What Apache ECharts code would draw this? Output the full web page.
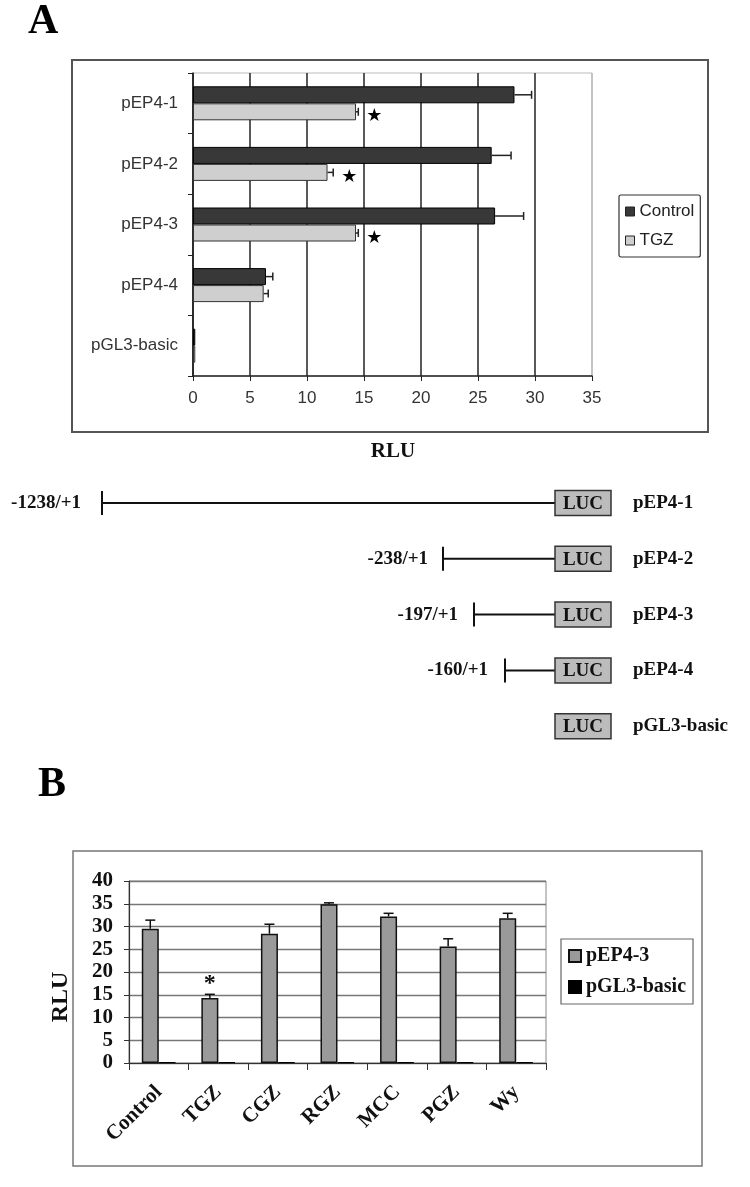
<!DOCTYPE html>
<html>
<head>
<meta charset="utf-8">
<script src="https://cdn.jsdelivr.net/npm/echarts@6/dist/echarts.min.js"></script>
<style>
html,body{margin:0;padding:0;background:#fff}
#main{width:750px;height:1187px}
</style>
</head>
<body>
<div id="main"></div>
<script>
// panel A: promoter constructs, control vs TGZ
const constructs = ['pEP4-1', 'pEP4-2', 'pEP4-3', 'pEP4-4', 'pGL3-basic'];
const controlA = [28.2, 26.2, 26.5, 6.4, 0.2];
const controlAErr = [1.5, 1.7, 2.5, 0.6, 0];
const tgzA = [14.3, 11.8, 14.3, 6.2, 0.2];
const tgzAErr = [0.2, 0.5, 0.2, 0.4, 0];
const sigA = [true, true, true, false, false];
const promoters = ['-1238/+1', '-238/+1', '-197/+1', '-160/+1', ''];
const ticksA = [0, 5, 10, 15, 20, 25, 30, 35];

// panel B: pEP4-3 under PPAR ligands
const treatments = ['Control', 'TGZ', 'CGZ', 'RGZ', 'MCC', 'PGZ', 'Wy'];
const pep43 = [29.5, 14.3, 28.4, 34.9, 32.2, 25.6, 31.8];
const pep43Err = [1.9, 0.8, 2.1, 0.3, 0.7, 1.7, 1.1];
const basicB = [0.2, 0.2, 0.2, 0.2, 0.2, 0.2, 0.2];
const sigB = [false, true, false, false, false, false, false];

const SANS = '"Liberation Sans", Arial, sans-serif';
const SERIF = '"Liberation Serif", "Times New Roman", serif';
const BAR = 17;

// horizontal error bar + star (panel A)
function errA(vals, errs, offset, stars) {
  return function (params, api) {
    const i = params.dataIndex;
    const p0 = api.coord([vals[i], i]);
    const p1 = api.coord([vals[i] + errs[i], i]);
    const y = p0[1] + offset;
    const kids = [];
    if (errs[i] > 0) {
      kids.push({type: 'line', shape: {x1: p0[0], y1: y, x2: p1[0], y2: y}, style: {stroke: '#222', lineWidth: 1.5}});
      kids.push({type: 'line', shape: {x1: p1[0], y1: y - 4, x2: p1[0], y2: y + 4}, style: {stroke: '#222', lineWidth: 1.5}});
    }
    if (stars && stars[i]) {
      kids.push({type: 'text', x: p1[0] + 16, y: y + 5,
        style: {text: '★', font: '18px "DejaVu Sans"', fill: '#000', align: 'center', verticalAlign: 'middle'}});
    }
    return {type: 'group', children: kids};
  };
}

// vertical error bar + asterisk (panel B)
function errB(params, api) {
  const i = params.dataIndex;
  const p0 = api.coord([i, pep43[i]]);
  const p1 = api.coord([i, pep43[i] + pep43Err[i]]);
  const x = p0[0] - BAR / 2;
  const kids = [
    {type: 'line', shape: {x1: x, y1: p0[1], x2: x, y2: p1[1]}, style: {stroke: '#111', lineWidth: 1.5}},
    {type: 'line', shape: {x1: x - 5, y1: p1[1], x2: x + 5, y2: p1[1]}, style: {stroke: '#111', lineWidth: 1.5}}
  ];
  if (sigB[i]) {
    kids.push({type: 'text', x: x, y: p1[1] - 10,
      style: {text: '*', font: 'bold 24px ' + SERIF, fill: '#111', align: 'center', verticalAlign: 'middle'}});
  }
  return {type: 'group', children: kids};
}

// construct schematic (between the two panels)
const graphics = [
  {type: 'rect', silent: true, shape: {x: 72, y: 60, width: 636, height: 372}, style: {fill: 'none', stroke: '#555', lineWidth: 2}},
  {type: 'rect', silent: true, shape: {x: 73, y: 851, width: 629, height: 315}, style: {fill: 'none', stroke: '#777', lineWidth: 1.5}},
  {type: 'text', x: 28, y: 43, style: {text: 'A', font: 'bold 42px ' + SERIF, fill: '#000', align: 'left', verticalAlign: 'bottom'}},
  {type: 'text', x: 38, y: 806, style: {text: 'B', font: 'bold 42px ' + SERIF, fill: '#000', align: 'left', verticalAlign: 'bottom'}},
  {type: 'text', x: 393, y: 452, style: {text: 'RLU', font: 'bold 21px ' + SERIF, fill: '#111', align: 'center', verticalAlign: 'middle'}},
  {type: 'text', x: 61, y: 997, rotation: Math.PI / 2, style: {text: 'RLU', font: 'bold 24px ' + SERIF, fill: '#111', align: 'center', verticalAlign: 'middle'}}
];
const tickX = [102, 443, 474, 505];
const labelEnd = [81, 428, 458, 488];
constructs.forEach(function (name, i) {
  const y = 503 + i * 55.8;
  if (promoters[i]) {
    graphics.push({type: 'line', silent: true, shape: {x1: tickX[i], y1: y, x2: 555, y2: y}, style: {stroke: '#111', lineWidth: 2}});
    graphics.push({type: 'line', silent: true, shape: {x1: tickX[i], y1: y - 12, x2: tickX[i], y2: y + 12}, style: {stroke: '#111', lineWidth: 2}});
    graphics.push({type: 'text', x: labelEnd[i], y: y, style: {text: promoters[i], font: 'bold 19px ' + SERIF, fill: '#111', align: 'right', verticalAlign: 'middle'}});
  }
  graphics.push({type: 'rect', silent: true, shape: {x: 555, y: y - 12.5, width: 56, height: 25}, style: {fill: '#bcbcbc', stroke: '#333', lineWidth: 1.5}});
  graphics.push({type: 'text', x: 583, y: y + 1, style: {text: 'LUC', font: 'bold 19px ' + SERIF, fill: '#111', align: 'center', verticalAlign: 'middle'}});
  graphics.push({type: 'text', x: 633, y: y, style: {text: name, font: 'bold 19px ' + SERIF, fill: '#111', align: 'left', verticalAlign: 'middle'}});
});

const chart = echarts.init(document.getElementById('main'));
chart.setOption({
  animation: false,
  backgroundColor: '#fff',
  graphic: graphics,
  grid: [
    {left: 193, top: 73, width: 399, height: 303, show: true, borderColor: '#bbb', borderWidth: 1},
    {left: 129, top: 881, width: 417, height: 182, show: true, borderColor: '#888', borderWidth: 1}
  ],
  legend: [
    {data: ['Control', 'TGZ'], left: 619, top: 195, orient: 'vertical', icon: 'rect',
      itemWidth: 9, itemHeight: 9, itemGap: 12, itemStyle: {borderColor: '#222', borderWidth: 1},
      padding: [8, 6, 8, 6],
      borderColor: '#333', borderWidth: 1.2, borderRadius: 2, backgroundColor: '#fff',
      textStyle: {fontFamily: SANS, fontSize: 17, color: '#222'}},
    {data: ['pEP4-3', 'pGL3-basic'], left: 561, top: 939, orient: 'vertical', icon: 'rect',
      itemWidth: 12, itemHeight: 12, itemGap: 11, padding: [7, 7, 7, 7],
      borderColor: '#666', borderWidth: 1.2, backgroundColor: '#fff',
      textStyle: {fontFamily: SERIF, fontSize: 20, fontWeight: 'bold', color: '#111'}}
  ],
  xAxis: [
    {gridIndex: 0, type: 'value', min: 0, max: 35, interval: 5,
      axisLine: {show: true, lineStyle: {color: '#222', width: 1.5}},
      axisTick: {show: true, length: 5, lineStyle: {color: '#222'}},
      axisLabel: {fontFamily: SANS, fontSize: 17, color: '#333', margin: 14},
      splitLine: {show: true, lineStyle: {color: ticksA.map(function (t) { return t === 35 ? '#bbb' : '#222'; }), width: 1.5}}},
    {gridIndex: 1, type: 'category', data: treatments,
      axisLine: {show: true, lineStyle: {color: '#333', width: 1.2}},
      axisTick: {show: true, length: 7, lineStyle: {color: '#333'}},
      axisLabel: {interval: 0, rotate: 45, fontFamily: SERIF, fontSize: 21, fontWeight: 'bold', color: '#111', margin: 26},
      splitLine: {show: false}}
  ],
  yAxis: [
    {gridIndex: 0, type: 'category', data: constructs, inverse: true,
      axisLine: {show: true, lineStyle: {color: '#222', width: 1.5}},
      axisTick: {show: true, length: 5, lineStyle: {color: '#222'}},
      axisLabel: {fontFamily: SANS, fontSize: 17, color: '#333', margin: 15},
      splitLine: {show: false}},
    {gridIndex: 1, type: 'value', min: 0, max: 40, interval: 5,
      axisLine: {show: true, lineStyle: {color: '#333', width: 1.2}},
      axisTick: {show: true, length: 5, lineStyle: {color: '#333'}},
      axisLabel: {fontFamily: SERIF, fontSize: 21, fontWeight: 'bold', color: '#111', margin: 16},
      splitLine: {show: true, lineStyle: {color: '#777', width: 1.3}}}
  ],
  series: [
    {name: 'Control', type: 'bar', xAxisIndex: 0, yAxisIndex: 0, data: controlA, barWidth: BAR, barGap: '0%',
      itemStyle: {color: '#383838', borderColor: '#000', borderWidth: 1}},
    {name: 'TGZ', type: 'bar', xAxisIndex: 0, yAxisIndex: 0, data: tgzA, barWidth: BAR, barGap: '0%',
      itemStyle: {color: '#cfcfcf', borderColor: '#333', borderWidth: 1}},
    {type: 'custom', xAxisIndex: 0, yAxisIndex: 0, z: 5, silent: true,
      renderItem: errA(controlA, controlAErr, -BAR / 2, null),
      data: controlA.map(function (v, i) { return [v, i]; }), encode: {x: 0, y: 1}},
    {type: 'custom', xAxisIndex: 0, yAxisIndex: 0, z: 5, silent: true,
      renderItem: errA(tgzA, tgzAErr, BAR / 2, sigA),
      data: tgzA.map(function (v, i) { return [v, i]; }), encode: {x: 0, y: 1}},
    {name: 'pEP4-3', type: 'bar', xAxisIndex: 1, yAxisIndex: 1, data: pep43, barWidth: BAR, barGap: '0%',
      itemStyle: {color: '#9a9a9a', borderColor: '#111', borderWidth: 1.5}},
    {name: 'pGL3-basic', type: 'bar', xAxisIndex: 1, yAxisIndex: 1, data: basicB, barWidth: BAR, barGap: '0%',
      itemStyle: {color: '#000', borderColor: '#000', borderWidth: 1}},
    {type: 'custom', xAxisIndex: 1, yAxisIndex: 1, z: 5, silent: true, renderItem: errB,
      data: pep43.map(function (v, i) { return [i, v]; }), encode: {x: 0, y: 1}}
  ]
});
</script>
</body>
</html>
